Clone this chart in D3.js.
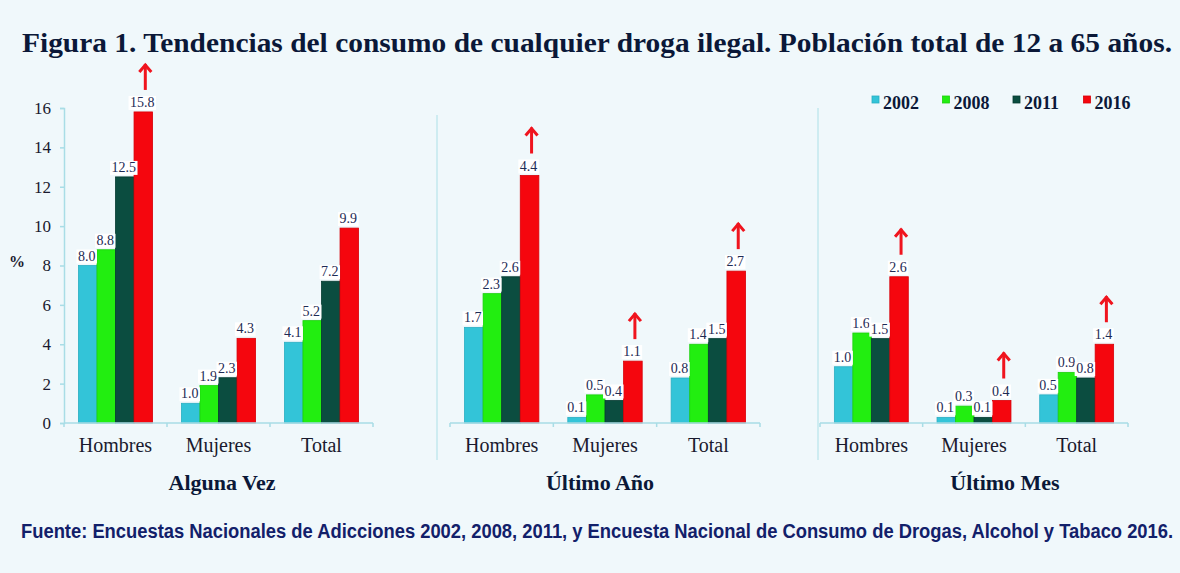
<!DOCTYPE html>
<html>
<head>
<meta charset="utf-8">
<script src="https://cdn.jsdelivr.net/npm/d3@7"></script>
<style>
  html, body { margin: 0; padding: 0; background: #f0f8fb; }
  svg { display: block; }
</style>
</head>
<body>
<svg id="chart" width="1180" height="573"></svg>
<script>
// --- data ---
var years = ['2002', '2008', '2011', '2016'];
var categories = ['Hombres', 'Mujeres', 'Total'];
var panelNames = ['Alguna Vez', 'Último Año', 'Último Mes'];

// values per category, one entry per year
var algunaVez = [[8.0, 8.8, 12.5, 15.8], [1.0, 1.9, 2.3, 4.3], [4.1, 5.2, 7.2, 9.9]];
var ultimoAno = [[1.7, 2.3, 2.6, 4.4], [0.1, 0.5, 0.4, 1.1], [0.8, 1.4, 1.5, 2.7]];
var ultimoMes = [[1.0, 1.6, 1.5, 2.6], [0.1, 0.3, 0.1, 0.4], [0.5, 0.9, 0.8, 1.4]];

// red arrows: significant increase of 2016 for each category
var increase = [[true, false, false], [true, true, true], [true, true, true]];

var yTicks = [0, 2, 4, 6, 8, 10, 12, 14, 16];

var colors = ['#33c4d8', '#22ee10', '#0b4d40', '#f5060e'];
var strokes = ['#2aaec2', '#1cd00c', '#063a30', '#d80008'];

// --- layout ---
var svg = d3.select('#chart');
var yBase = 423, yTop = 108;

var panels = [
    {values: algunaVez, x0: 64, x1: 373, max: 16, axis: true, titleX: 222},
    {values: ultimoAno, x0: 450, x1: 760, max: 5.6, sep: 437, sepTop: 115, titleX: 600},
    {values: ultimoMes, x0: 820, x1: 1128, max: 5.6, sep: 818, sepTop: 108, titleX: 1005}
];

svg.append('rect').attr('width', 1180).attr('height', 573).attr('fill', '#f0f8fb');

// title
svg.append('text')
    .attr('x', 22).attr('y', 52)
    .attr('textLength', 1150).attr('lengthAdjust', 'spacingAndGlyphs')
    .style('font-family', '"Liberation Serif", serif')
    .style('font-weight', 'bold').style('font-size', '28px')
    .attr('fill', '#0b1838')
    .text('Figura 1. Tendencias del consumo de cualquier droga ilegal. Población total de 12 a 65 años.');

// source, squeezed horizontally to fit the reference width
var src = svg.append('text')
    .attr('x', 0).attr('y', 0)
    .style('font-family', '"Liberation Sans", sans-serif')
    .style('font-weight', 'bold').style('font-size', '20px')
    .attr('fill', '#12206a')
    .text('Fuente: Encuestas Nacionales de Adicciones 2002, 2008, 2011, y Encuesta Nacional de Consumo de Drogas, Alcohol y Tabaco 2016.');
var srcW = src.node().getComputedTextLength();
src.attr('transform', 'translate(21,538) scale(' + (1153 / srcW) + ',1)');

// legend
var legend = svg.append('g').attr('class', 'legend');
years.forEach(function (yr, i) {
    var lx = 872 + i * 70.5;
    legend.append('rect')
        .attr('x', lx).attr('y', 96).attr('width', 7).attr('height', 7)
        .attr('fill', colors[i]).attr('stroke', strokes[i]).attr('stroke-width', 0.8);
    legend.append('text')
        .attr('x', lx + 11).attr('y', 109)
        .style('font-family', '"Liberation Serif", serif')
        .style('font-weight', 'bold').style('font-size', '18px')
        .attr('fill', '#0b1838')
        .text(yr);
});

// "%" label
svg.append('text')
    .attr('x', 17).attr('y', 267).attr('text-anchor', 'middle')
    .style('font-family', '"Liberation Serif", serif')
    .style('font-weight', 'bold').style('font-size', '16px')
    .attr('fill', '#1a1a2e')
    .text('%');

var axisColor = '#a9dde6';

panels.forEach(function (p, pi) {
    var g = svg.append('g').attr('class', 'panel');

    var x = d3.scaleBand().domain(categories).range([p.x0, p.x1])
        .paddingInner(0.28).paddingOuter(0.14);
    var xYear = d3.scaleBand().domain(years).range([0, x.bandwidth()]);
    var y = d3.scaleLinear().domain([0, p.max]).range([yBase, yTop]);

    // panel separator
    if (p.sep) {
        g.append('line')
            .attr('x1', p.sep).attr('x2', p.sep)
            .attr('y1', p.sepTop).attr('y2', 460)
            .attr('stroke', '#c3e8ee').attr('stroke-width', 1.5);
    }

    // y axis (first panel only)
    if (p.axis) {
        var ya = g.append('g')
            .attr('transform', 'translate(' + p.x0 + ',0)')
            .call(d3.axisLeft(y).tickValues(yTicks).tickSize(4).tickPadding(9));
        ya.select('.domain').attr('stroke', axisColor).attr('stroke-width', 1.5);
        ya.selectAll('.tick line').attr('stroke', axisColor).attr('stroke-width', 1.5);
        ya.selectAll('.tick text')
            .style('font-family', '"Liberation Serif", serif')
            .style('font-size', '17px').attr('fill', '#1a1a2e');
    }

    // bars
    var groups = g.selectAll('.cat')
        .data(categories)
        .enter().append('g')
        .attr('class', 'cat')
        .attr('transform', function (c) { return 'translate(' + x(c) + ',0)'; });

    groups.each(function (c, ci) {
        var cg = d3.select(this);
        var vals = p.values[ci];

        cg.selectAll('rect.bar')
            .data(vals)
            .enter().append('rect')
            .attr('class', 'bar')
            .attr('x', function (d, i) { return xYear(years[i]); })
            .attr('y', function (d) { return y(d); })
            .attr('width', xYear.bandwidth())
            .attr('height', function (d) { return yBase - y(d); })
            .attr('fill', function (d, i) { return colors[i]; })
            .attr('stroke', function (d, i) { return strokes[i]; })
            .attr('stroke-width', 0.8);

        vals.forEach(function (v, i) {
            var cx = xYear(years[i]) + xYear.bandwidth() / 2;
            var t = cg.append('text')
                .attr('x', cx - 1).attr('y', y(v) - 5)
                .attr('text-anchor', 'middle')
                .style('font-family', '"Liberation Serif", serif')
                .style('font-size', '14px')
                .attr('fill', '#1d2b55')
                .text(v.toFixed(1));
            var bb = t.node().getBBox();
            cg.insert('rect', function () { return t.node(); })
                .attr('x', bb.x - 1.5).attr('y', bb.y + 1)
                .attr('width', bb.width + 3).attr('height', bb.height - 1)
                .attr('fill', '#ffffff');
        });

        // arrow above the 2016 bar
        if (increase[pi][ci]) {
            var ax = xYear('2016') + xYear.bandwidth() / 2 + 2;
            var ay = y(vals[3]) - 22;
            cg.append('line')
                .attr('x1', ax).attr('x2', ax)
                .attr('y1', ay).attr('y2', ay - 26)
                .attr('stroke', '#f0141e').attr('stroke-width', 3);
            cg.append('polyline')
                .attr('points', [[ax - 6, ay - 18], [ax, ay - 25], [ax + 6, ay - 18]].join(' '))
                .attr('fill', 'none')
                .attr('stroke', '#f0141e').attr('stroke-width', 3);
        }
    });

    // x axis line with boundary ticks
    g.append('line')
        .attr('x1', p.x0).attr('x2', p.x1)
        .attr('y1', yBase).attr('y2', yBase)
        .attr('stroke', axisColor).attr('stroke-width', 1.5);
    d3.range(categories.length + 1).forEach(function (i) {
        var tx = p.x0 + i * x.step();
        g.append('line')
            .attr('x1', tx).attr('x2', tx)
            .attr('y1', yBase).attr('y2', yBase + 4)
            .attr('stroke', axisColor).attr('stroke-width', 1.5);
    });

    // category labels
    g.selectAll('.catlabel')
        .data(categories)
        .enter().append('text')
        .attr('class', 'catlabel')
        .attr('x', function (c) { return x(c) + x.bandwidth() / 2; })
        .attr('y', 452)
        .attr('text-anchor', 'middle')
        .style('font-family', '"Liberation Serif", serif')
        .style('font-size', '20px')
        .attr('fill', '#1a1a2e')
        .text(function (c) { return c; });

    // panel title
    g.append('text')
        .attr('x', p.titleX).attr('y', 490)
        .attr('text-anchor', 'middle')
        .style('font-family', '"Liberation Serif", serif')
        .style('font-weight', 'bold').style('font-size', '22px')
        .attr('fill', '#0b1838')
        .text(panelNames[pi]);
});
</script>
</body>
</html>
